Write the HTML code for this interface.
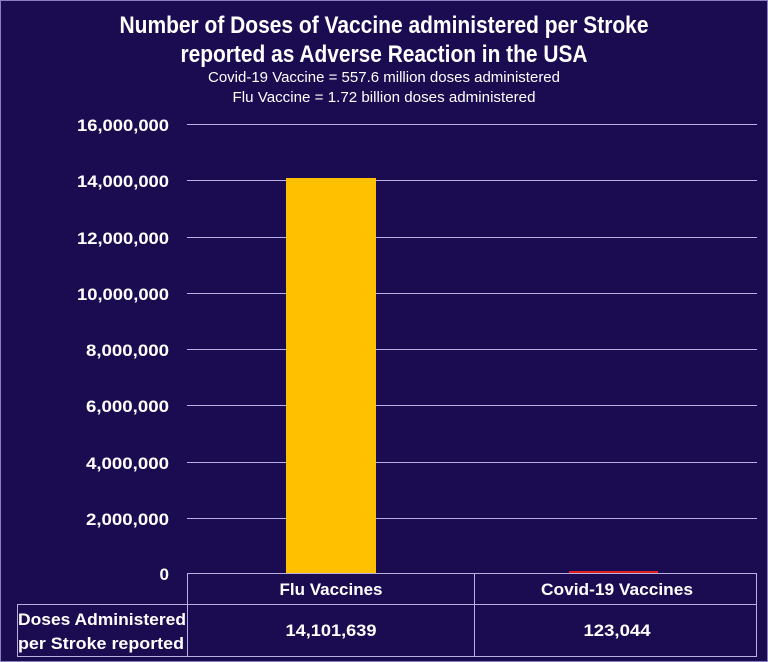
<!DOCTYPE html>
<html><head><style>
html,body{margin:0;padding:0;background:#1b0c52;}
svg{display:block;}
text{font-family:"Liberation Sans",sans-serif;fill:#fff;}
</style></head><body>
<svg width="768" height="662" viewBox="0 0 768 662">
<rect x="0" y="0" width="768" height="662" fill="#1b0c52"/>
<rect x="0.5" y="0.5" width="767" height="661" fill="none" stroke="#8a80c0" stroke-width="1"/>
<text x="384" y="33" text-anchor="middle" font-size="24" font-weight="bold" textLength="529" lengthAdjust="spacingAndGlyphs">Number of Doses of Vaccine administered per Stroke</text>
<text x="384" y="62" text-anchor="middle" font-size="24" font-weight="bold" textLength="407" lengthAdjust="spacingAndGlyphs">reported as Adverse Reaction in the USA</text>
<text x="384" y="82" text-anchor="middle" font-size="15" textLength="352" lengthAdjust="spacingAndGlyphs">Covid-19 Vaccine = 557.6 million doses administered</text>
<text x="384" y="102" text-anchor="middle" font-size="15" textLength="303" lengthAdjust="spacingAndGlyphs">Flu Vaccine = 1.72 billion doses administered</text>
<g stroke="#b8b0e0" stroke-width="1">
<line x1="187" y1="124.5" x2="757" y2="124.5"/>
<line x1="187" y1="180.5" x2="757" y2="180.5"/>
<line x1="187" y1="237.5" x2="757" y2="237.5"/>
<line x1="187" y1="293.5" x2="757" y2="293.5"/>
<line x1="187" y1="349.5" x2="757" y2="349.5"/>
<line x1="187" y1="405.5" x2="757" y2="405.5"/>
<line x1="187" y1="462.5" x2="757" y2="462.5"/>
<line x1="187" y1="518.5" x2="757" y2="518.5"/>
</g>
<g font-size="17" font-weight="bold" text-anchor="end">
<text x="169" y="131" textLength="92" lengthAdjust="spacingAndGlyphs">16,000,000</text>
<text x="169" y="187" textLength="92" lengthAdjust="spacingAndGlyphs">14,000,000</text>
<text x="169" y="244" textLength="92" lengthAdjust="spacingAndGlyphs">12,000,000</text>
<text x="169" y="300" textLength="92" lengthAdjust="spacingAndGlyphs">10,000,000</text>
<text x="169" y="356" textLength="83" lengthAdjust="spacingAndGlyphs">8,000,000</text>
<text x="169" y="412" textLength="83" lengthAdjust="spacingAndGlyphs">6,000,000</text>
<text x="169" y="469" textLength="83" lengthAdjust="spacingAndGlyphs">4,000,000</text>
<text x="169" y="525" textLength="83" lengthAdjust="spacingAndGlyphs">2,000,000</text>
<text x="169" y="580">0</text>
</g>
<rect x="286" y="178" width="90" height="396" fill="#ffc000"/>
<rect x="569" y="571" width="89" height="3" fill="#e02020"/>
<g stroke="#b8b0e0" stroke-width="1" fill="none">
<line x1="187" y1="573.5" x2="757" y2="573.5"/>
<line x1="187.5" y1="573" x2="187.5" y2="657"/>
<line x1="474.5" y1="573" x2="474.5" y2="657"/>
<line x1="756.5" y1="573" x2="756.5" y2="657"/>
<line x1="17" y1="604.5" x2="757" y2="604.5"/>
<line x1="17" y1="656.5" x2="757" y2="656.5"/>
<line x1="17.5" y1="604" x2="17.5" y2="657"/>
</g>
<g font-size="17" font-weight="bold" text-anchor="middle">
<text x="331" y="595" textLength="103" lengthAdjust="spacingAndGlyphs">Flu Vaccines</text>
<text x="617" y="595" textLength="152" lengthAdjust="spacingAndGlyphs">Covid-19 Vaccines</text>
<text x="331" y="636" textLength="91" lengthAdjust="spacingAndGlyphs">14,101,639</text>
<text x="617" y="636" textLength="67" lengthAdjust="spacingAndGlyphs">123,044</text>
</g>
<g font-size="17" font-weight="bold">
<text x="18" y="625" textLength="168" lengthAdjust="spacingAndGlyphs">Doses Administered</text>
<text x="18" y="649" textLength="166" lengthAdjust="spacingAndGlyphs">per Stroke reported</text>
</g>
</svg>
</body></html>
